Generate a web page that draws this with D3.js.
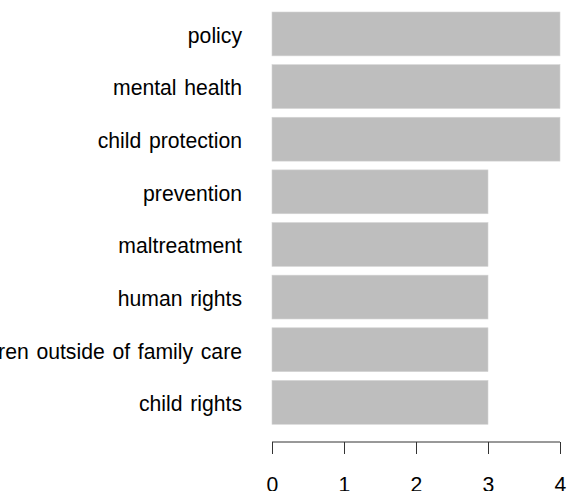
<!DOCTYPE html>
<html><head><meta charset="utf-8">
<script src="https://cdn.jsdelivr.net/npm/d3@7"></script>
<style>body{margin:0;background:#fff}svg{display:block}</style>
</head><body>
<script>
const categories = ["policy","mental health","child protection","prevention","maltreatment","human rights","children outside of family care","child rights"];
const values = [4,4,4,3,3,3,3,3];
const tickValues = [0,1,2,3,4];

const W = 568, H = 491;
const svg = d3.select("body").append("svg").attr("width", W).attr("height", H);

const x = d3.scaleLinear().domain([0,4]).range([272,560]);
const y = d3.scaleBand().domain(categories).range([12, 12 + 52.63*7 + 43.86]).paddingInner(0.2/1.2).paddingOuter(0);

svg.selectAll("rect.bar").data(categories).enter().append("rect")
  .attr("x", x(0))
  .attr("y", d => y(d))
  .attr("width", (d,i) => x(values[i]) - x(0))
  .attr("height", y.bandwidth())
  .attr("fill", "#bebebe")
  .attr("stroke", "#d4d4d4")
  .attr("stroke-width", 0.6);

svg.selectAll("text.lab").data(categories).enter().append("text")
  .attr("x", 242)
  .attr("y", d => y(d) + y.bandwidth()/2 + 1.5)
  .attr("dy", "0.35em")
  .attr("text-anchor", "end")
  .attr("font-family", "Liberation Sans, Arial, sans-serif")
  .attr("font-size", 21.2)
  .attr("word-spacing", "1.8px")
  .attr("fill", "#000")
  .text(d => d);

const axis = d3.axisBottom(x).tickValues(tickValues).tickSize(12).tickPadding(23).tickFormat(d3.format("d"));
const g = svg.append("g").attr("transform", "translate(0,442)").call(axis);
g.select(".domain").attr("d", `M${x(0)},0H${x(4)}`).attr("stroke", "#333");
g.selectAll(".tick line").attr("stroke", "#333");
g.selectAll(".tick text").attr("font-family", "Liberation Sans, Arial, sans-serif").attr("font-size", 21.2).attr("fill", "#000");
</script>
</body></html>
